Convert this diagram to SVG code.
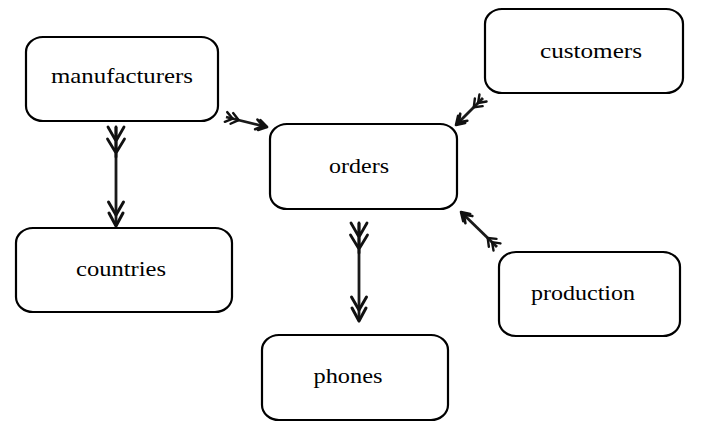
<svg xmlns="http://www.w3.org/2000/svg" width="704" height="447" viewBox="0 0 704 447">
<style>
.box{fill:#fff;stroke:#000;stroke-width:2.2}
.lbl{font-family:"Liberation Serif","Times New Roman",serif;font-size:22px;fill:#000;text-anchor:middle}
.edge{stroke:#1a1a1a;stroke-width:2.8;fill:none}
.big{marker-start:url(#fletchL);marker-end:url(#headL)}
.small{marker-start:url(#fletchS);marker-end:url(#headS)}
</style>
<defs>
<marker id="headL" markerUnits="userSpaceOnUse" viewBox="-26 -10 28 20" refX="0" refY="0" markerWidth="28" markerHeight="20" orient="auto" overflow="visible">
<path d="M0,0 L-13,-7 M0,0 L-13,7 M-11,0 L-24,-7.5 M-11,0 L-24,7.5" stroke="#111" stroke-width="3" fill="none" stroke-linecap="round"/>
</marker>
<marker id="fletchL" markerUnits="userSpaceOnUse" viewBox="-2 -10 36 20" refX="0" refY="0" markerWidth="36" markerHeight="20" orient="auto" overflow="visible">
<path d="M14,0 L0,-8 M14,0 L0,8 M26,0 L12,-8.5 M26,0 L12,8.5 M0,0 L30,0" stroke="#111" stroke-width="2.8" fill="none" stroke-linecap="round"/>
</marker>
<marker id="headS" markerUnits="userSpaceOnUse" viewBox="-16 -7 18 14" refX="0" refY="0" markerWidth="18" markerHeight="14" orient="auto" overflow="visible">
<path d="M0,0 L-8,-5 M0,0 L-8,5 M-4,0 L-11,-5 M-4,0 L-11,5" stroke="#111" stroke-width="2.6" fill="none" stroke-linecap="round"/>
</marker>
<marker id="fletchS" markerUnits="userSpaceOnUse" viewBox="-2 -7 20 14" refX="0" refY="0" markerWidth="20" markerHeight="14" orient="auto" overflow="visible">
<path d="M7,0 L0,-5 M7,0 L0,5 M13,0 L6,-5.5 M13,0 L6,5.5" stroke="#111" stroke-width="2.4" fill="none" stroke-linecap="round"/>
</marker>
</defs>
<rect width="704" height="447" fill="#fff"/>
<g id="connectors">
<line class="edge big" x1="116" y1="127" x2="116" y2="226"/>
<line class="edge small" x1="226" y1="117" x2="267" y2="127"/>
<line class="edge big" x1="359" y1="223" x2="359" y2="321"/>
<line class="edge small" x1="483" y1="98" x2="456" y2="125"/>
<line class="edge small" x1="497" y1="247" x2="461" y2="212"/>
</g>
<g id="manufacturers">
<rect class="box" x="26" y="37" width="192" height="84" rx="17" ry="15"/>
<text class="lbl" x="122" y="83" textLength="142" lengthAdjust="spacingAndGlyphs">manufacturers</text>
</g>
<g id="customers">
<rect class="box" x="485" y="9" width="198" height="84" rx="17" ry="15"/>
<text class="lbl" x="591" y="58" textLength="102" lengthAdjust="spacingAndGlyphs">customers</text>
</g>
<g id="orders">
<rect class="box" x="270" y="124" width="187" height="85" rx="17" ry="15"/>
<text class="lbl" x="359" y="173" textLength="60" lengthAdjust="spacingAndGlyphs">orders</text>
</g>
<g id="countries">
<rect class="box" x="16" y="228" width="216" height="84" rx="17" ry="15"/>
<text class="lbl" x="121" y="276" textLength="90" lengthAdjust="spacingAndGlyphs">countries</text>
</g>
<g id="production">
<rect class="box" x="499" y="252" width="181" height="84" rx="17" ry="15"/>
<text class="lbl" x="583" y="300" textLength="104" lengthAdjust="spacingAndGlyphs">production</text>
</g>
<g id="phones">
<rect class="box" x="262" y="335" width="186" height="85" rx="17" ry="15"/>
<text class="lbl" x="348" y="383" textLength="69" lengthAdjust="spacingAndGlyphs">phones</text>
</g>
</svg>
